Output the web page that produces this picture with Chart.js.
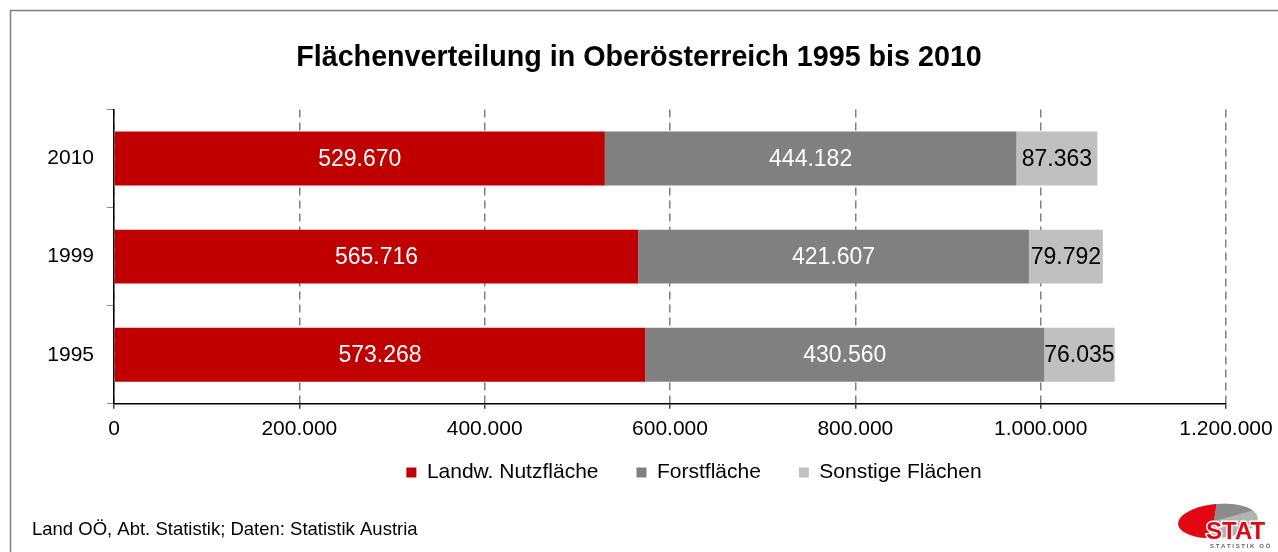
<!DOCTYPE html>
<html>
<head>
<meta charset="utf-8">
<script src="https://cdn.jsdelivr.net/npm/chart.js@4"></script>
<style>
  body { margin: 0; background: #fff; }
  #wrap { width: 1278px; height: 552px; position: relative; }
</style>
</head>
<body>
<div id="wrap"><canvas id="flaechen"></canvas></div>
<script>
// data
var years = ["2010", "1999", "1995"];
var seriesNames = ["Landw. Nutzfläche", "Forstfläche", "Sonstige Flächen"];
var landw = [529670, 565716, 573268];
var forst = [444182, 421607, 430560];
var sonstige = [87363, 79792, 76035];
var tickValues = [0, 200000, 400000, 600000, 800000, 1000000, 1200000];

var FONT = "'Liberation Sans', Arial, sans-serif";
Chart.defaults.font.family = FONT;
Chart.defaults.color = "#000";

function fmt(v) {
    return String(v).replace(/\B(?=(\d{3})+(?!\d))/g, ".");
}

// white / black numbers in the middle of each bar piece
var barLabels = {
    id: "barLabels",
    afterDatasetsDraw: function (chart) {
        var ctx = chart.ctx;
        var colors = ["#fff", "#fff", "#000"];
        ctx.save();
        ctx.font = "23px " + FONT;
        ctx.textAlign = "center";
        ctx.textBaseline = "middle";
        chart.data.datasets.forEach(function (ds, i) {
            var meta = chart.getDatasetMeta(i);
            ctx.fillStyle = colors[i];
            meta.data.forEach(function (bar, j) {
                ctx.fillText(fmt(ds.data[j]), (bar.x + bar.base) / 2, bar.y + 1);
            });
        });
        ctx.restore();
    }
};

// frame, source line and logo
var decor = {
    id: "decor",
    afterLayout: function (chart) {
        // legend sits a bit right of centre and closer to the axis in the original
        var lg = chart.legend;
        lg.left += 55;
        lg.right += 55;
        lg.top -= 26;
        lg.bottom -= 26;
    },
    beforeDraw: function (chart) {
        var ctx = chart.ctx;
        ctx.save();
        ctx.strokeStyle = "#7f7f7f";
        ctx.lineWidth = 1.5;
        ctx.beginPath();
        ctx.moveTo(10.5, 552);
        ctx.lineTo(10.5, 10.5);
        ctx.lineTo(1278, 10.5);
        ctx.stroke();
        ctx.restore();
    },
    afterDraw: function (chart) {
        var ctx = chart.ctx;
        ctx.save();
        ctx.font = "18.5px " + FONT;
        ctx.fillStyle = "#000";
        ctx.textBaseline = "middle";
        ctx.fillText("Land OÖ, Abt. Statistik; Daten: Statistik Austria", 32, 530);

        // logo
        var cx = 1218, cy = 521;
        ctx.beginPath();
        ctx.ellipse(cx, cy, 40, 17, -0.08, 0, Math.PI * 2);
        ctx.fillStyle = "#b3b3b3";
        ctx.fill();
        ctx.beginPath();
        ctx.moveTo(cx - 4, cy);
        ctx.ellipse(cx, cy, 40, 17, -0.08, Math.PI * 0.6, Math.PI * 1.5);
        ctx.closePath();
        ctx.fillStyle = "#e30613";
        ctx.fill();
        ctx.beginPath();
        ctx.moveTo(cx - 4, cy);
        ctx.ellipse(cx, cy, 40, 17, -0.08, Math.PI * 1.5, Math.PI * 1.85);
        ctx.closePath();
        ctx.fillStyle = "#8c8c8c";
        ctx.fill();
        ctx.font = "bold 24px " + FONT;
        ctx.textBaseline = "alphabetic";
        ctx.lineWidth = 3;
        ctx.strokeStyle = "#fff";
        ctx.strokeText("STAT", 1206, 539);
        ctx.fillStyle = "#e30613";
        ctx.fillText("STAT", 1206, 539);
        ctx.font = "bold 6px " + FONT;
        ctx.fillStyle = "#666";
        ctx.fillText("S T A T I S T I K   O Ö", 1210, 548);
        ctx.restore();
    }
};

new Chart(document.getElementById("flaechen"), {
    type: "bar",
    data: {
        labels: years,
        datasets: [
            { label: seriesNames[0], data: landw, backgroundColor: "#c00000" },
            { label: seriesNames[1], data: forst, backgroundColor: "#808080" },
            { label: seriesNames[2], data: sonstige, backgroundColor: "#c0c0c0" }
        ]
    },
    options: {
        indexAxis: "y",
        responsive: true,
        maintainAspectRatio: false,
        animation: false,
        datasets: {
            bar: { categoryPercentage: 1, barPercentage: 0.55, borderWidth: 0 }
        },
        layout: { padding: { left: 0, right: 0, top: 0, bottom: 33 } },
        scales: {
            x: {
                stacked: true,
                min: 0,
                max: 1200000,
                afterBuildTicks: function (s) {
                    s.ticks = tickValues.map(function (v) { return { value: v }; });
                },
                afterFit: function (s) {
                    s.paddingRight = 52;
                },
                grid: {
                    color: "#808080",
                    lineWidth: 1.5,
                    tickColor: "#444",
                    tickBorderDash: [],
                    tickLength: 5
                },
                border: { color: "#000", width: 1.5, dash: [8, 5] },
                ticks: {
                    padding: 8,
                    font: { size: 21 },
                    maxRotation: 0,
                    callback: function (v) { return fmt(v); }
                }
            },
            y: {
                stacked: true,
                afterFit: function (s) { s.width = 114; },
                grid: {
                    drawOnChartArea: false,
                    offset: true,
                    tickLength: 7,
                    color: "#888"
                },
                border: { color: "#000", width: 1.5 },
                ticks: { padding: 13, font: { size: 21 } }
            }
        },
        plugins: {
            title: {
                display: true,
                text: "Flächenverteilung in Oberösterreich 1995 bis 2010",
                font: { size: 28.7, weight: "bold" },
                color: "#000",
                padding: { top: 41, bottom: 34 }
            },
            legend: {
                position: "bottom",
                labels: {
                    boxWidth: 10,
                    boxHeight: 10,
                    padding: 38,
                    font: { size: 21 },
                    color: "#000"
                }
            },
            tooltip: { enabled: false }
        }
    },
    plugins: [barLabels, decor]
});
</script>
</body>
</html>
